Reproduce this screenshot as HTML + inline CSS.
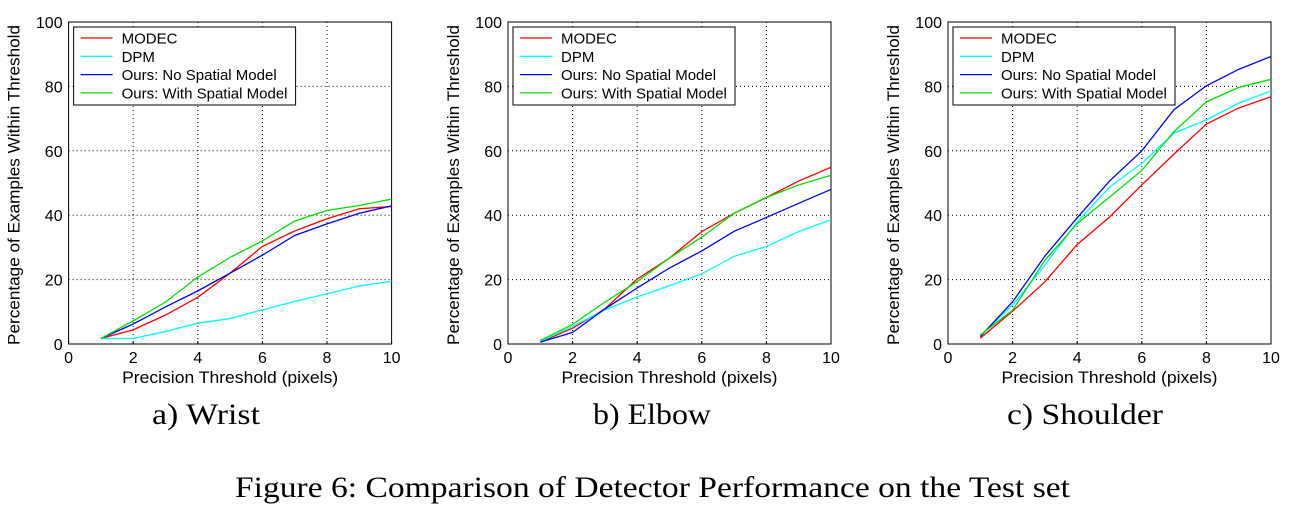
<!DOCTYPE html>
<html><head><meta charset="utf-8">
<style>
body{margin:0;background:#fff;width:1294px;height:510px;overflow:hidden}
svg{display:block}
</style></head>
<body>
<svg id="fig" width="1294" height="510" xmlns="http://www.w3.org/2000/svg" font-family="Liberation Sans, sans-serif"></svg>
<script>
const xs = [1,2,3,4,5,6,7,8,9,10];
const xTicks = [0,2,4,6,8,10];
const yTicks = [0,20,40,60,80,100];
const seriesNames = ["MODEC","DPM","Ours: No Spatial Model","Ours: With Spatial Model"];
const seriesColors = ["#ff0000","#00ffff","#0000ee","#00e000"];
const wristModec = [1.7,4.4,9,14.5,22,30.3,35.1,38.9,42,42.7];
const wristDpm = [1.7,1.7,3.9,6.5,7.9,10.6,13.2,15.6,18,19.5];
const wristNoSpatial = [1.7,6.2,11.5,16.5,22,27.6,33.7,37.3,40.6,42.9];
const wristSpatial = [1.7,7.2,13,20.8,26.9,32,38.2,41.5,43,45];
const elbowModec = [0.6,4.9,10.9,20.2,26.7,34.9,40.6,45.5,50.6,54.9];
const elbowDpm = [0.8,5.5,10.6,14.6,18.1,21.8,27.2,30.3,34.9,38.6];
const elbowNoSpatial = [0.6,3.6,10.9,17.4,23.6,28.9,35,39.3,43.7,48];
const elbowSpatial = [1.1,6.1,13,19.4,26.7,33.2,40.6,45.5,49.4,52.4];
const shoulderModec = [1.8,10.2,19.3,30.9,39.4,49.4,59,68.3,73.3,76.8];
const shoulderDpm = [2.5,12.1,24.5,37.9,48.7,56.1,65.5,69.6,74.8,78.6];
const shoulderNoSpatial = [2.3,13.1,27.3,39.2,50.6,60,72.8,80.2,85.3,89.3];
const shoulderSpatial = [2.8,10.5,26,37.4,45.6,53.9,66,75.2,79.7,82.2];
const panelTitles = ["a) Wrist","b) Elbow","c) Shoulder"];
const panelData = [
  [wristModec,wristDpm,wristNoSpatial,wristSpatial],
  [elbowModec,elbowDpm,elbowNoSpatial,elbowSpatial],
  [shoulderModec,shoulderDpm,shoulderNoSpatial,shoulderSpatial]
];
const NS="http://www.w3.org/2000/svg";
const svg=document.getElementById('fig');
function mk(tag,attrs,parent,text){const e=document.createElementNS(NS,tag);for(const k in attrs)e.setAttribute(k,attrs[k]);if(text!==undefined)e.textContent=text;(parent||svg).appendChild(e);return e;}
const lefts=[68.6,508,948];
const titleCenters=[206,652,1085];
const titleWidths=[108,118,156];
const W=323, plotTop=22, plotBottom=344;
panelData.forEach((data,p)=>{
  const L=lefts[p];
  const g=mk('g',{});
  
  
  const sx=v=>L+v/10*W;
  const sy=v=>plotBottom-v/100*(plotBottom-plotTop);
  xTicks.forEach(t=>{
    if(t>0&&t<10){const l=mk('line',{x1:sx(t),x2:sx(t),y1:plotTop,y2:plotBottom,stroke:'#000','stroke-width':1,'stroke-dasharray':'1,3'},g);
    
    }
    const tl=mk('text',{x:sx(t),y:plotBottom+19,'font-size':16,'text-anchor':'middle'},g,String(t));
    
    
    mk('line',{x1:sx(t),x2:sx(t),y1:plotBottom,y2:plotBottom-3,stroke:'#000'},g);
  });
  yTicks.forEach(t=>{
    if(t>0&&t<100){const l=mk('line',{x1:L,x2:L+W,y1:sy(t),y2:sy(t),stroke:'#000','stroke-width':1,'stroke-dasharray':'1,3'},g);
    
    }
    const tl=mk('text',{x:L-6,y:sy(t)+6,'font-size':16,'text-anchor':'end'},g,String(t));
    
    
  });
  const box=mk('rect',{x:L,y:plotTop,width:W,height:plotBottom-plotTop,fill:'none',stroke:'#000','stroke-width':1},g);
  
  
  data.forEach((s,i)=>{
    const pl=mk('polyline',{points:s.map((v,j)=>sx(xs[j])+','+sy(v)).join(' '),fill:'none',stroke:seriesColors[i],'stroke-width':1.3},g);
    
    
  });
  const lg=mk('g',{},g);
  
  
  mk('rect',{x:L+5,y:27,width:222,height:78,fill:'#fff',stroke:'#000','stroke-width':1},lg);
  seriesNames.forEach((n,i)=>{
    const y=38+i*18.3;
    mk('line',{x1:L+12,x2:L+44,y1:y,y2:y,stroke:seriesColors[i],'stroke-width':1.3},lg);
    const t=mk('text',{x:L+53,y:y+5.5,'font-size':15},lg,n);
    
    
  });
  const xl=mk('text',{x:L+W/2-108,y:383,'font-size':16.5,textLength:216,lengthAdjust:'spacingAndGlyphs'},g,'Precision Threshold (pixels)');
  
  
  const cx=L-49, cy=185;
  const yl=mk('text',{x:cx-160,y:cy,'font-size':16.5,textLength:320,lengthAdjust:'spacingAndGlyphs',transform:`rotate(-90 ${cx} ${cy})`},g,'Percentage of Examples Within Threshold');
  
  
  const st=mk('text',{x:titleCenters[p]-titleWidths[p]/2,y:424,'font-size':30,textLength:titleWidths[p],lengthAdjust:'spacingAndGlyphs','font-family':'Liberation Serif, serif'},g,panelTitles[p]);
  
  
});
const cap=mk('text',{x:235,y:497,'font-size':30,textLength:835,lengthAdjust:'spacingAndGlyphs','font-family':'Liberation Serif, serif'},svg,'Figure 6: Comparison of Detector Performance on the Test set');


</script>
</body></html>
